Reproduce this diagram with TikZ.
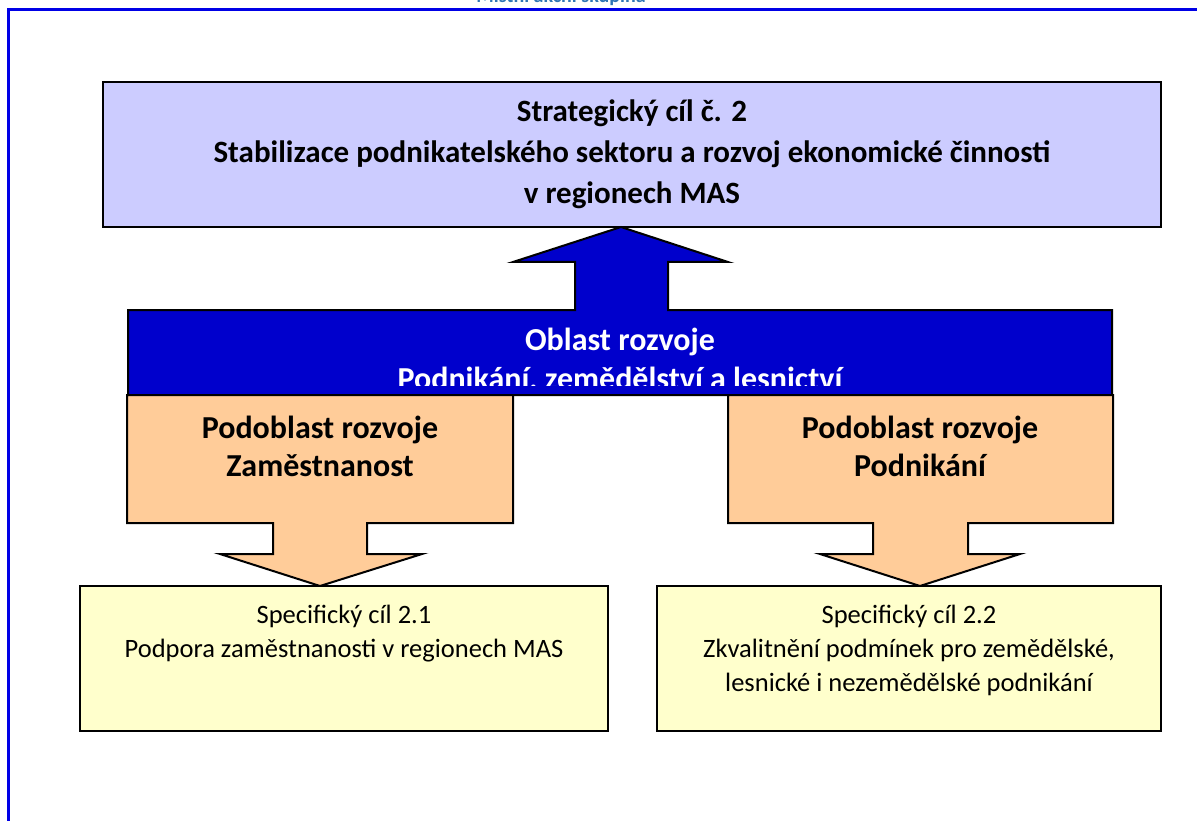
\documentclass[tikz,border=0pt]{standalone}
\usepackage{fontspec}
\setmainfont{Carlito}
\definecolor{goalfill}{HTML}{CCCCFF}
\definecolor{areafill}{HTML}{0000CC}
\definecolor{subfill}{HTML}{FFCC99}
\definecolor{specfill}{HTML}{FFFFCC}
\definecolor{framecol}{HTML}{0000E6}
\definecolor{headcol}{HTML}{2E74B5}
\begin{document}
\begin{tikzpicture}[x=1pt, y=-1pt, inner sep=0pt,
    box/.style={draw=black, line width=2pt},
    big/.style={font=\bfseries\fontsize{31}{41}\selectfont, align=center},
    small/.style={font=\fontsize{26.5}{34}\selectfont, align=center}]
        \useasboundingbox (0, 0) rectangle (1197, 821);
        \draw[framecol, line width=3pt] (8, 830) -- (8, 10) -- (1205, 10); % page frame
        \node[headcol, font=\bfseries\fontsize{20}{22}\selectfont, anchor=base] (head) at (561, 2.5) {Místní akční skupina}; % cut header
        \draw[box, fill=goalfill] (103, 82) rectangle (1161, 227); % strategic goal
        \node[big] (goal) at (632, 154) {Strategický cíl č. 2\\Stabilizace podnikatelského sektoru a rozvoj ekonomické činnosti\\v regionech MAS};
        \draw[box, fill=areafill] (128, 395) -- (128, 310) -- (575, 310) -- (575, 262) -- (513, 262) -- (621, 227)
            -- (728, 262) -- (668, 262) -- (668, 310) -- (1112, 310) -- (1112, 395) -- cycle; % area with up arrow
        \begin{scope}
            \clip (128, 310) rectangle (1112, 385);
            \node[big, white, font=\bfseries\fontsize{32}{39}\selectfont] (area) at (620, 361) {Oblast rozvoje\\Podnikání, zemědělství a lesnictví};
        \end{scope}
        \draw[box, fill=subfill] (127, 395) -- (513, 395) -- (513, 523) -- (367, 523) -- (367, 554) -- (422, 554) -- (320, 586)
            -- (220, 554) -- (273, 554) -- (273, 523) -- (127, 523) -- cycle; % subarea left
        \node[big, font=\bfseries\fontsize{32}{38}\selectfont] (subA) at (320, 446) {Podoblast rozvoje\\Zaměstnanost};
        \draw[box, fill=subfill] (728, 395) -- (1113, 395) -- (1113, 523) -- (968, 523) -- (968, 554) -- (1020, 554) -- (920, 586)
            -- (820, 554) -- (873, 554) -- (873, 523) -- (728, 523) -- cycle; % subarea right
        \node[big, font=\bfseries\fontsize{32}{38}\selectfont] (subB) at (920, 446) {Podoblast rozvoje\\Podnikání};
        \draw[box, fill=specfill] (80, 586) rectangle (608, 731); % specific goal 2.1
        \node[small, anchor=north] (specA) at (344, 605) {Specifický cíl 2.1\\Podpora zaměstnanosti v regionech MAS};
        \draw[box, fill=specfill] (657, 586) rectangle (1161, 731); % specific goal 2.2
        \node[small, anchor=north] (specB) at (909, 605) {Specifický cíl 2.2\\Zkvalitnění podmínek pro zemědělské,\\lesnické i nezemědělské podnikání};
    \end{tikzpicture}
\end{document}
